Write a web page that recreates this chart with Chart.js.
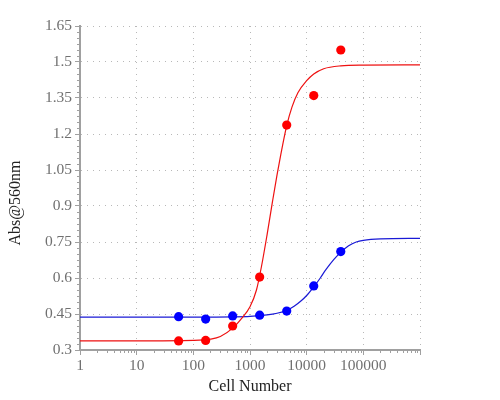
<!DOCTYPE html>
<html>
<head>
<meta charset="utf-8">
<script src="https://cdn.jsdelivr.net/npm/chart.js@4"></script>
<style>
  html, body { margin: 0; padding: 0; background: #fff; }
  #wrap { width: 500px; height: 400px; }
</style>
</head>
<body>
<div id="wrap"><canvas id="c" width="500" height="400"></canvas></div>
<script>
// ---- data ----
const cellNumbers = [55, 165, 494, 1481, 4444, 13333, 40000];
const redAbs  = [0.338, 0.340, 0.400, 0.604, 1.237, 1.360, 1.550];
const blueAbs = [0.439, 0.429, 0.442, 0.445, 0.462, 0.567, 0.710];

const redCurveX = [1, 10, 100, 200, 300, 500, 700, 1000, 1300, 1600, 2000, 2500, 3000, 3500, 4444, 5500, 7000, 10000, 13333, 20000, 40000, 100000, 1000000];
const redCurveY = [0.338, 0.338, 0.340, 0.345, 0.356, 0.392, 0.430, 0.480, 0.550, 0.650, 0.780, 0.920, 1.030, 1.115, 1.235, 1.312, 1.372, 1.422, 1.450, 1.472, 1.484, 1.487, 1.488];

const blueCurveX = [1, 100, 500, 1000, 2000, 3000, 4444, 6000, 8000, 10000, 13333, 17400, 22000, 30000, 40000, 55000, 75000, 100000, 200000, 1000000];
const blueCurveY = [0.437, 0.437, 0.438, 0.440, 0.446, 0.453, 0.465, 0.482, 0.505, 0.527, 0.563, 0.600, 0.636, 0.677, 0.707, 0.734, 0.750, 0.757, 0.763, 0.765];

const xTicks = [1, 10, 100, 1000, 10000, 100000, 1000000];
const xTickLabels = ['1', '10', '100', '1000', '10000', '100000', ''];
const yTicks = [0.3, 0.45, 0.6, 0.75, 0.9, 1.05, 1.2, 1.35, 1.5, 1.65];
const yTickLabels = ['0.3', '0.45', '0.6', '0.75', '0.9', '1.05', '1.2', '1.35', '1.5', '1.65'];

const xTitle = 'Cell Number';
const yTitle = 'Abs@560nm';

// ---- helpers ----
const toXY = (xs, ys) => xs.map((x, i) => ({ x: x, y: ys[i] }));

const AXIS_COLOR = '#a0a0a0';
const GRID_COLOR = '#b8b8b8';
const FONT_FAMILY = '"Liberation Serif", "Times New Roman", serif';
const TICK_FONT = { family: FONT_FAMILY, size: 15.5 };
const TITLE_FONT = { family: FONT_FAMILY, size: 16 };

const minorTicks = {
  id: 'minorTicks',
  afterDraw(chart) {
    const ctx = chart.ctx;
    const xs = chart.scales.x, ys = chart.scales.y;
    const area = chart.chartArea;
    ctx.save();
    ctx.strokeStyle = AXIS_COLOR;
    ctx.lineWidth = 1;
    ctx.beginPath();
    for (let d = 1; d < xs.max; d *= 10) {
      for (let m = 2; m <= 9; m++) {
        const v = d * m;
        if (v >= xs.max) break;
        const px = Math.round(xs.getPixelForValue(v)) + 0.5;
        ctx.moveTo(px, area.bottom);
        ctx.lineTo(px, area.bottom + 3);
      }
    }
    const nY = Math.round((ys.max - ys.min) / 0.025);
    for (let i = 1; i < nY; i++) {
      if (i % 6 === 0) continue;
      const v = ys.min + i * 0.025;
      const py = Math.round(ys.getPixelForValue(v)) + 0.5;
      ctx.moveTo(area.left - 3, py);
      ctx.lineTo(area.left, py);
    }
    ctx.stroke();

    // y axis title, placed slightly below the plot centre as in the reference
    ctx.fillStyle = '#222';
    ctx.font = '16px ' + FONT_FAMILY;
    ctx.textAlign = 'center';
    ctx.textBaseline = 'middle';
    ctx.translate(15.5, (area.top + area.bottom) / 2 + 15);
    ctx.rotate(-Math.PI / 2);
    ctx.fillText(yTitle, 0, 0);
    ctx.restore();
  }
};

new Chart(document.getElementById('c'), {
  type: 'scatter',
  data: {
    datasets: [
      { label: 'red points', data: toXY(cellNumbers, redAbs), backgroundColor: '#ff0000', borderWidth: 0, pointRadius: 4.6, showLine: false, order: 0 },
      { label: 'blue points', data: toXY(cellNumbers, blueAbs), backgroundColor: '#0000ff', borderWidth: 0, pointRadius: 4.6, showLine: false, order: 1 },
      { label: 'red fit', data: toXY(redCurveX, redCurveY), type: 'line', borderColor: '#ee1111', borderWidth: 1.2, pointRadius: 0, fill: false, cubicInterpolationMode: 'monotone', order: 2 },
      { label: 'blue fit', data: toXY(blueCurveX, blueCurveY), type: 'line', borderColor: '#1a1ad6', borderWidth: 1.2, pointRadius: 0, fill: false, cubicInterpolationMode: 'monotone', order: 3 }
    ]
  },
  options: {
    responsive: false,
    animation: false,
    devicePixelRatio: 1,
    layout: { padding: { left: 0, right: 80, top: 26, bottom: 0 } },
    plugins: { legend: { display: false }, tooltip: { enabled: false } },
    scales: {
      x: {
        type: 'logarithmic',
        min: 1, max: 1000000,
        afterBuildTicks: (s) => { s.ticks = xTicks.map(v => ({ value: v, major: false })); },
        afterFit: (s) => { s.height = 50; },
        ticks: {
          autoSkip: false, maxRotation: 0, padding: 2,
          color: '#707070', font: TICK_FONT,
          callback: (v, i) => xTickLabels[i]
        },
        grid: {
          color: (c) => (c.index === 0 ? 'rgba(0,0,0,0)' : GRID_COLOR),
          lineWidth: 1, tickLength: 5, tickColor: AXIS_COLOR, tickWidth: 1
        },
        border: { display: true, color: AXIS_COLOR, width: 2, dash: [1, 5] },
        title: { display: true, text: xTitle, color: '#222', font: TITLE_FONT, padding: { top: 0, bottom: 4 } }
      },
      y: {
        type: 'linear',
        min: 0.3, max: 1.65,
        afterBuildTicks: (s) => { s.ticks = yTicks.map(v => ({ value: v })); },
        afterFit: (s) => { s.width = 80; },
        ticks: {
          autoSkip: false, padding: 3,
          color: '#707070', font: TICK_FONT,
          callback: (v, i) => yTickLabels[i]
        },
        grid: {
          color: (c) => (c.index === 0 ? 'rgba(0,0,0,0)' : GRID_COLOR),
          lineWidth: 1, tickLength: 5, tickColor: AXIS_COLOR, tickWidth: 1
        },
        border: { display: true, color: AXIS_COLOR, width: 2, dash: [1, 5] },
        title: { display: false, text: yTitle }
      }
    }
  },
  plugins: [minorTicks]
});
</script>
</body>
</html>
